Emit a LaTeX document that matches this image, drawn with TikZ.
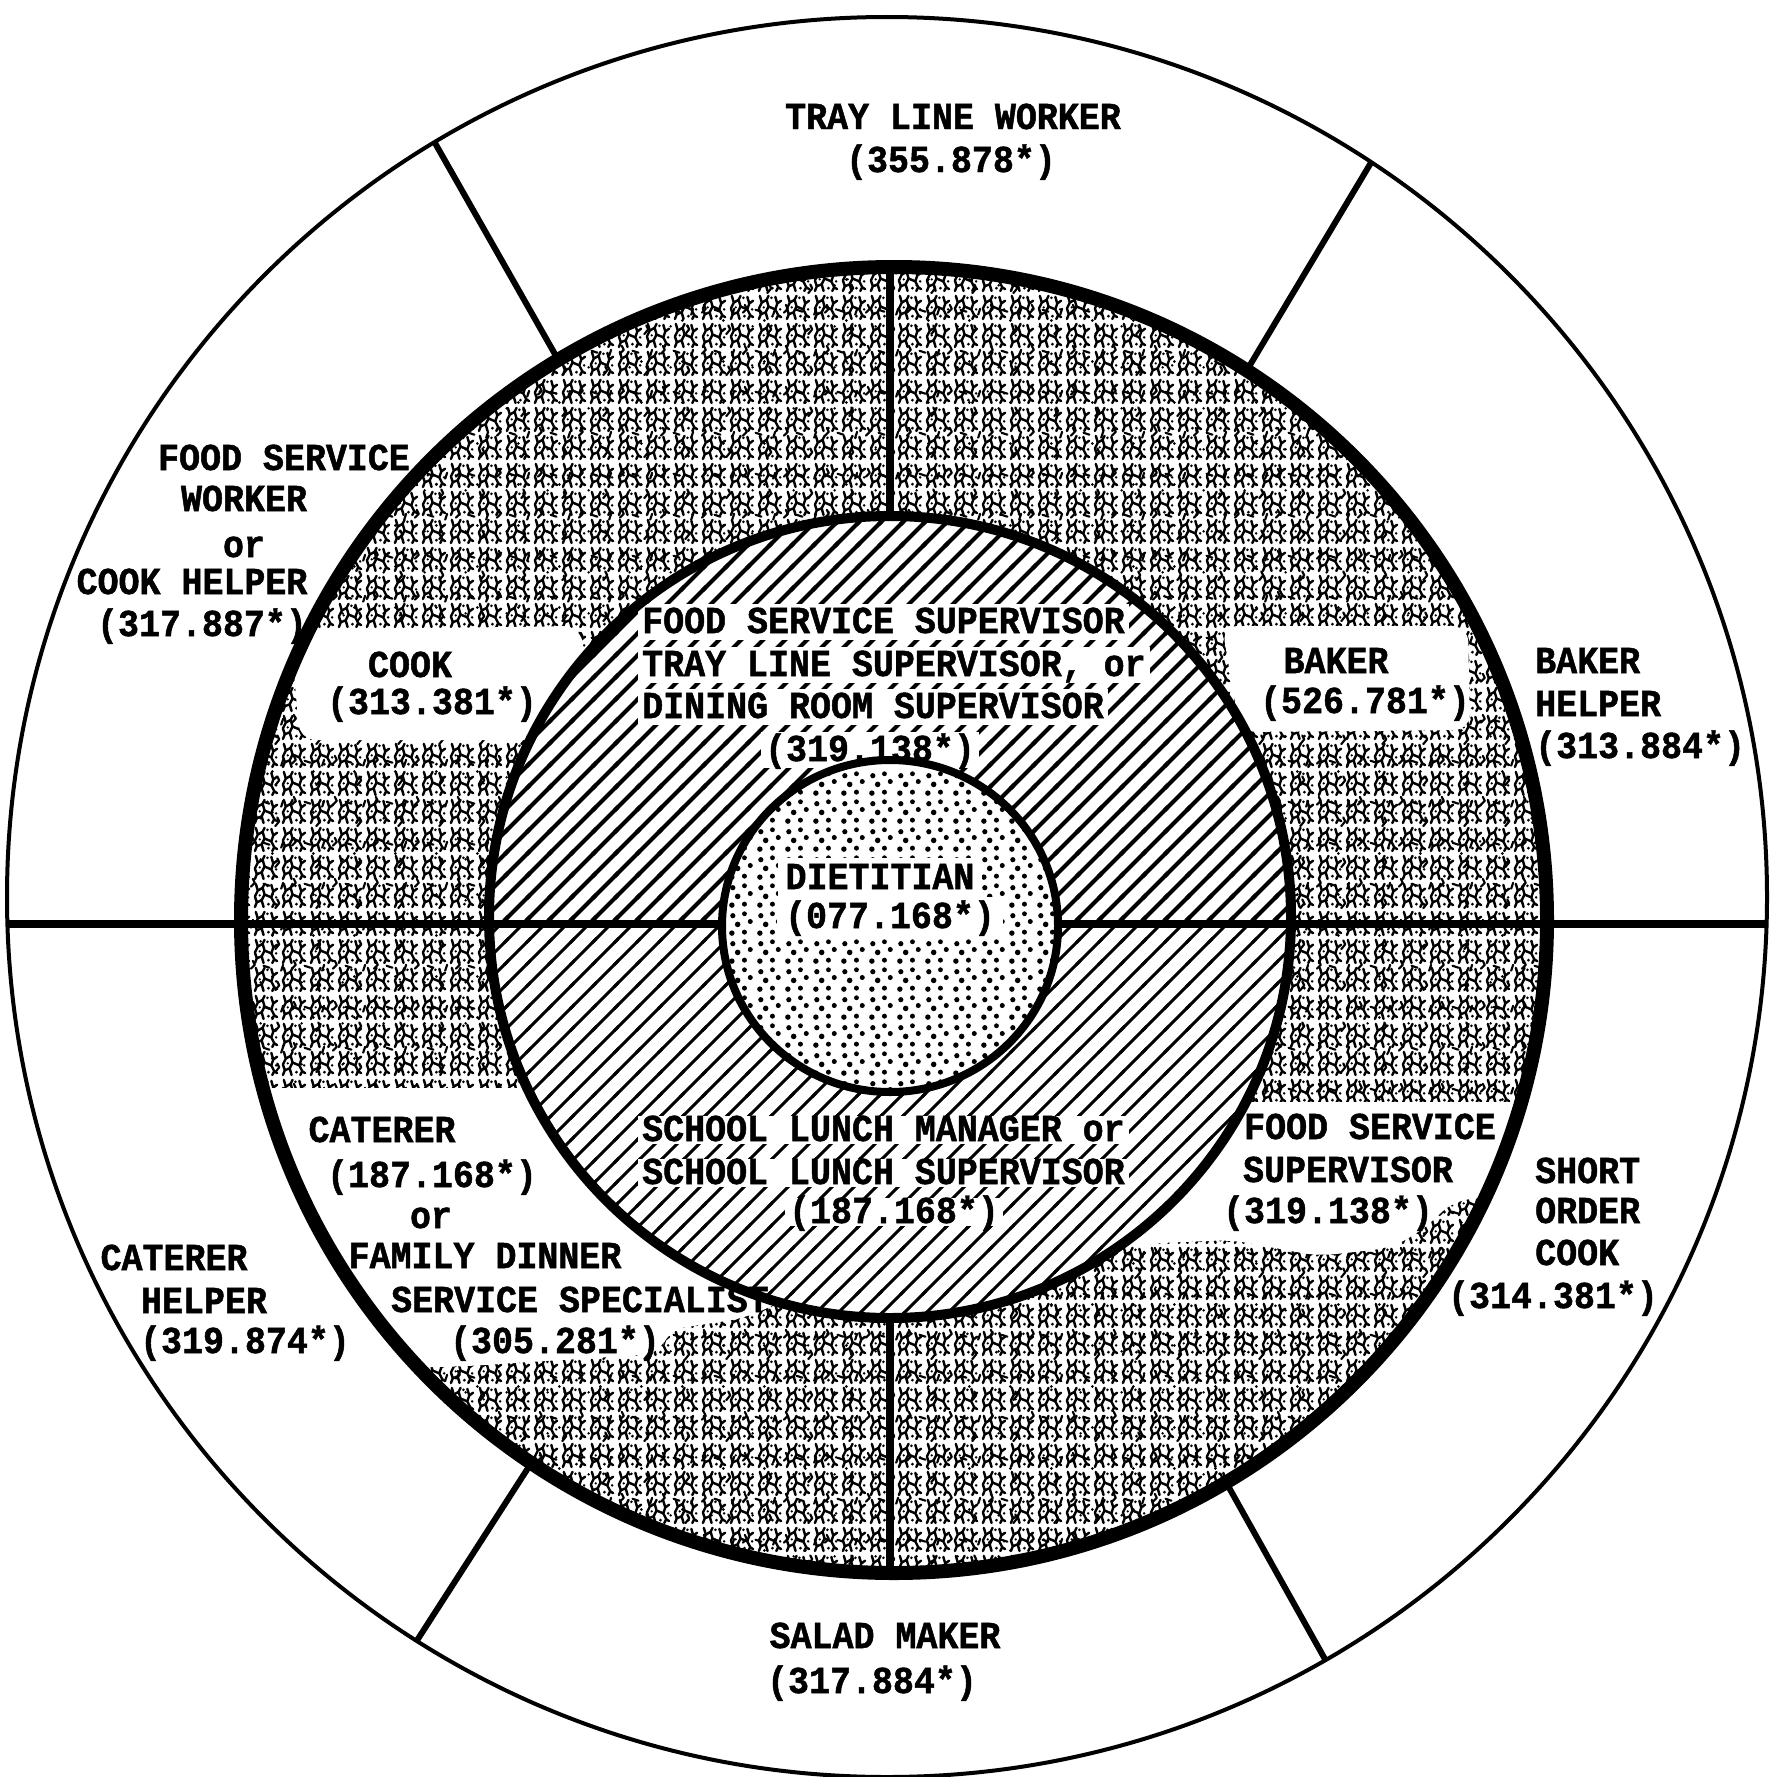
\documentclass[tikz,border=0pt]{standalone}
\usepackage{fontspec}
\newfontfamily\tw{Liberation Mono}[FakeStretch=0.92, BoldFeatures={FakeBold=1.3}]
\usetikzlibrary{patterns}

\pgfdeclarepatternformonly{crackleA}{\pgfqpoint{0pt}{0pt}}{\pgfqpoint{28pt}{28pt}}{\pgfqpoint{28pt}{28pt}}{%
  \pgfsetlinewidth{2.5pt}\pgfsetroundcap\pgfsetroundjoin
  \pgfpathmoveto{\pgfqpoint{3pt}{2pt}}\pgfpathlineto{\pgfqpoint{5pt}{7pt}}\pgfpathlineto{\pgfqpoint{3pt}{13pt}}\pgfpathlineto{\pgfqpoint{6pt}{19pt}}\pgfpathlineto{\pgfqpoint{4pt}{26pt}}%
  \pgfpathmoveto{\pgfqpoint{12pt}{2pt}}\pgfpathlineto{\pgfqpoint{10pt}{9pt}}\pgfpathlineto{\pgfqpoint{13pt}{15pt}}\pgfpathlineto{\pgfqpoint{11pt}{22pt}}\pgfpathlineto{\pgfqpoint{13pt}{26pt}}%
  \pgfpathmoveto{\pgfqpoint{21pt}{2pt}}\pgfpathlineto{\pgfqpoint{23pt}{6pt}}\pgfpathlineto{\pgfqpoint{20pt}{12pt}}\pgfpathlineto{\pgfqpoint{22pt}{18pt}}\pgfpathlineto{\pgfqpoint{20pt}{25pt}}%
  \pgfpathmoveto{\pgfqpoint{5pt}{7pt}}\pgfpathlineto{\pgfqpoint{10pt}{9pt}}%
  \pgfpathmoveto{\pgfqpoint{13pt}{15pt}}\pgfpathlineto{\pgfqpoint{20pt}{12pt}}%
  \pgfpathmoveto{\pgfqpoint{6pt}{19pt}}\pgfpathlineto{\pgfqpoint{11pt}{22pt}}%
  \pgfpathmoveto{\pgfqpoint{22pt}{18pt}}\pgfpathlineto{\pgfqpoint{26pt}{21pt}}%
  \pgfpathmoveto{\pgfqpoint{23pt}{6pt}}\pgfpathlineto{\pgfqpoint{26pt}{4pt}}%
  \pgfusepath{stroke}%
  \pgfpathcircle{\pgfqpoint{17pt}{5pt}}{1.6pt}\pgfpathcircle{\pgfqpoint{16pt}{24pt}}{1.5pt}%
  \pgfpathcircle{\pgfqpoint{25pt}{12pt}}{1.4pt}\pgfpathcircle{\pgfqpoint{8pt}{14pt}}{1.3pt}%
  \pgfusepath{fill}}

\pgfdeclarepatternformonly{crackleB}{\pgfqpoint{0pt}{0pt}}{\pgfqpoint{41pt}{41pt}}{\pgfqpoint{41pt}{41pt}}{%
  \pgfsetlinewidth{2.2pt}\pgfsetroundcap\pgfsetroundjoin
  \pgfpathmoveto{\pgfqpoint{5pt}{30pt}}\pgfpathlineto{\pgfqpoint{9pt}{34pt}}\pgfpathlineto{\pgfqpoint{7pt}{38pt}}%
  \pgfpathmoveto{\pgfqpoint{30pt}{8pt}}\pgfpathlineto{\pgfqpoint{34pt}{13pt}}\pgfpathlineto{\pgfqpoint{32pt}{17pt}}%
  \pgfpathmoveto{\pgfqpoint{18pt}{33pt}}\pgfpathlineto{\pgfqpoint{24pt}{31pt}}%
  \pgfpathmoveto{\pgfqpoint{36pt}{28pt}}\pgfpathlineto{\pgfqpoint{38pt}{34pt}}%
  \pgfusepath{stroke}%
  \pgfpathcircle{\pgfqpoint{27pt}{22pt}}{1.5pt}\pgfpathcircle{\pgfqpoint{15pt}{16pt}}{1.4pt}%
  \pgfusepath{fill}}

\pgfdeclarepatternformonly{stipple}{\pgfqpoint{0pt}{0pt}}{\pgfqpoint{28pt}{28pt}}{\pgfqpoint{28pt}{28pt}}{%
  \pgfpathcircle{\pgfqpoint{4pt}{4pt}}{2.8pt}\pgfpathcircle{\pgfqpoint{17pt}{5pt}}{2.6pt}%
  \pgfpathcircle{\pgfqpoint{10pt}{13pt}}{2.9pt}\pgfpathcircle{\pgfqpoint{23pt}{16pt}}{2.6pt}%
  \pgfpathcircle{\pgfqpoint{5pt}{22pt}}{2.7pt}\pgfpathcircle{\pgfqpoint{17pt}{24pt}}{2.5pt}%
  \pgfusepath{fill}}

\pgfdeclarepatternformonly{hatchA}{\pgfqpoint{-3pt}{-3pt}}{\pgfqpoint{25pt}{25pt}}{\pgfqpoint{22pt}{22pt}}{%
  \pgfsetlinewidth{4pt}\pgfpathmoveto{\pgfqpoint{-3pt}{-3pt}}\pgfpathlineto{\pgfqpoint{25pt}{25pt}}\pgfusepath{stroke}}
\pgfdeclarepatternformonly{hatchB}{\pgfqpoint{-3pt}{-3pt}}{\pgfqpoint{25pt}{25pt}}{\pgfqpoint{22pt}{22pt}}{%
  \pgfsetlinewidth{3pt}\pgfpathmoveto{\pgfqpoint{-3pt}{-3pt}}\pgfpathlineto{\pgfqpoint{25pt}{25pt}}\pgfusepath{stroke}}

\tikzset{
  lab/.style={font=\tw\bfseries\fontsize{38}{40}\selectfont, inner sep=0pt, text height=22pt, text depth=0pt},
  labw/.style={lab, fill=white, inner xsep=4pt, inner ysep=7pt},
  blob/.style={fill=white, rounded corners=16pt},
  outerline/.style={line width=4pt},
  midline/.style={line width=14pt},
  innerline/.style={line width=10pt},
  coreline/.style={line width=8pt},
  divline/.style={line width=8pt},
  spoke/.style={line width=6pt}
}

\begin{document}
\begin{tikzpicture}[x=1pt,y=-1pt]
\useasboundingbox (0,0) rectangle (1774,1777);
\fill[white] (0,0) rectangle (1774,1777);

\coordinate (Co) at (887,897);
\coordinate (Cm) at (894,920);
\coordinate (Ci) at (890,917);
\coordinate (Cd) at (890,926);

% middle ring texture
\begin{scope}
  \clip (Cm) circle[radius=653pt];
  \fill[pattern=crackleA] (Cm) circle[radius=653pt];
  \fill[pattern=crackleB] (Cm) circle[radius=653pt];
  \fill[blob] (290,630) -- (580,626) -- (592,705) -- (560,740) -- (300,740) -- cycle;
  \fill[blob] (1222,626) -- (1468,626) -- (1470,730) -- (1240,732) -- cycle;
  \fill[blob] (150,1088) -- (560,1088) -- (700,1200) -- (790,1298) -- (745,1318) -- (668,1330) -- (660,1354) -- (560,1360) -- (470,1366) -- (150,1376) -- cycle;
  \fill[blob] (1080,1102) -- (1620,1102) -- (1620,1190) -- (1455,1200) -- (1420,1232) -- (1390,1248) -- (1318,1256) -- (1232,1240) -- (1160,1243) -- (1080,1250) -- cycle;
\end{scope}

% inner hatched ring
\fill[white] (Ci) circle[radius=401pt];
\begin{scope}
  \clip (0,0) rectangle (1774,924);
  \fill[pattern=hatchA] (Ci) circle[radius=401pt];
\end{scope}
\begin{scope}
  \clip (0,924) rectangle (1774,1777);
  \fill[pattern=hatchB] (Ci) circle[radius=401pt];
\end{scope}

% dietitian disk
\fill[white] (Cd) ellipse[x radius=168pt, y radius=166pt];
\fill[pattern=stipple] (Cd) ellipse[x radius=168pt, y radius=166pt];

% texts
\node[lab] (t1a) at (953,118) {TRAY LINE WORKER};
\node[lab] (t1b) at (951,161) {(355.878*)};

\node[lab] (t2a) at (284,459) {FOOD SERVICE};
\node[lab] (t2b) at (244,500) {WORKER};
\node[lab] (t2c) at (244,546) {or};
\node[lab] (t2d) at (192,583) {COOK HELPER};
\node[lab] (t2e) at (202,625) {(317.887*)};

\node[lab] (t3a) at (410,666) {COOK};
\node[lab] (t3b) at (432,703) {(313.381*)};

\node[labw,anchor=west] (t4a) at (638,622) {FOOD SERVICE SUPERVISOR};
\node[labw,anchor=west] (t4b) at (638,665) {TRAY LINE SUPERVISOR, or};
\node[labw,anchor=west] (t4c) at (638,707) {DINING ROOM SUPERVISOR};
\node[labw] (t4d) at (870,750) {(319.138*)};

\node[labw,inner xsep=8pt,inner ysep=9pt] (t5a) at (880,878) {DIETITIAN};
\node[labw,inner xsep=8pt,inner ysep=9pt] (t5b) at (890,917) {(077.168*)};

\node[lab] (t6a) at (1336,662) {BAKER};
\node[lab] (t6b) at (1365,702) {(526.781*)};

\node[lab,anchor=west] (t7a) at (1535,662) {BAKER};
\node[lab,anchor=west] (t7b) at (1535,705) {HELPER};
\node[lab,anchor=west] (t7c) at (1535,747) {(313.884*)};

\node[labw,inner ysep=3pt,anchor=west] (t8a) at (638,1130) {SCHOOL LUNCH MANAGER or};
\node[labw,inner ysep=3pt,anchor=west] (t8b) at (638,1173) {SCHOOL LUNCH SUPERVISOR};
\node[labw,inner ysep=3pt] (t8c) at (894,1212) {(187.168*)};

\node[lab] (t9a) at (1370,1128) {FOOD SERVICE};
\node[lab] (t9b) at (1348,1171) {SUPERVISOR};
\node[lab] (t9c) at (1328,1212) {(319.138*)};

\node[lab,anchor=west] (t10a) at (1535,1172) {SHORT};
\node[lab,anchor=west] (t10b) at (1535,1212) {ORDER};
\node[lab,anchor=west] (t10c) at (1535,1254) {COOK};
\node[lab] (t10d) at (1553,1297) {(314.381*)};

\node[lab] (t11a) at (382,1131) {CATERER};
\node[lab] (t11b) at (432,1176) {(187.168*)};
\node[lab] (t11c) at (431,1217) {or};
\node[lab] (t11d) at (485,1257) {FAMILY DINNER};
\node[lab] (t11e) at (580,1301) {SERVICE SPECIALIST};
\node[lab] (t11f) at (555,1342) {(305.281*)};

\node[lab] (t12a) at (174,1259) {CATERER};
\node[lab] (t12b) at (204,1302) {HELPER};
\node[lab] (t12c) at (245,1342) {(319.874*)};

\node[lab] (t13a) at (885,1637) {SALAD MAKER};
\node[lab] (t13b) at (872,1682) {(317.884*)};

% dividing lines
\coordinate (hL1) at (8,924);   \coordinate (hL2) at (724,924);
\coordinate (hR1) at (1056,924); \coordinate (hR2) at (1766,924);
\coordinate (vT1) at (890,266);  \coordinate (vT2) at (890,514);
\coordinate (vB1) at (890,1319); \coordinate (vB2) at (890,1574);
\draw[divline] (hL1) -- (hL2);
\draw[divline] (hR1) -- (hR2);
\draw[divline] (vT1) -- (vT2);
\draw[divline] (vB1) -- (vB2);

\coordinate (dUL1) at (435,143);  \coordinate (dUL2) at (560,363);
\coordinate (dUR1) at (1372,161); \coordinate (dUR2) at (1250,365);
\coordinate (dLL1) at (416,1642); \coordinate (dLL2) at (530,1465);
\coordinate (dLR1) at (1326,1661); \coordinate (dLR2) at (1227,1484);
\draw[spoke] (dUL1) -- (dUL2);
\draw[spoke] (dUR1) -- (dUR2);
\draw[spoke] (dLL1) -- (dLL2);
\draw[spoke] (dLR1) -- (dLR2);

% circles
\draw[outerline] (Co) circle[radius=880pt];
\draw[midline] (Cm) circle[radius=653pt];
\draw[innerline] (Ci) circle[radius=401pt];
\draw[coreline] (Cd) ellipse[x radius=168pt, y radius=166pt];
\end{tikzpicture}
\end{document}
